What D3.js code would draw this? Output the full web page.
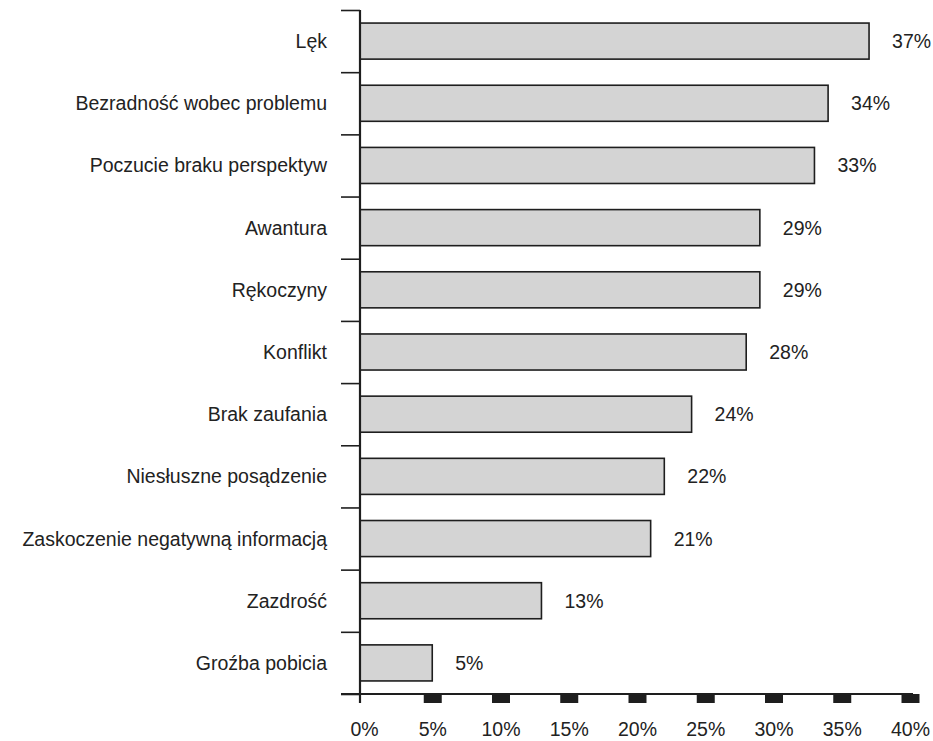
<!DOCTYPE html>
<html>
<head>
<meta charset="utf-8">
<script src="https://cdn.jsdelivr.net/npm/d3@7"></script>
<style>
  body { margin: 0; background: #fff; }
  text { font-family: "Liberation Sans", Arial, sans-serif; fill: #222; }
</style>
</head>
<body>
<div id="chart-area"></div>
<script>
// data
const categories = ["Lęk", "Bezradność wobec problemu", "Poczucie braku perspektyw",
  "Awantura", "Rękoczyny", "Konflikt", "Brak zaufania", "Niesłuszne posądzenie",
  "Zaskoczenie negatywną informacją", "Zazdrość", "Groźba pobicia"]
const values = [37, 34, 33, 29, 29, 28, 24, 22, 21, 13, 5]
const xTicks = [0, 5, 10, 15, 20, 25, 30, 35, 40]

const WIDTH = 933
const HEIGHT = 741
const AXIS_X = 360     // where the vertical axis is drawn
const TOP = 10
const BOTTOM = 694     // where the horizontal axis is drawn
const FONT = "19.5px"

const svg = d3.select("#chart-area").append("svg")
  .attr("width", WIDTH)
  .attr("height", HEIGHT)

const x = d3.scaleLinear()
  .domain([0, 40])
  .range([364, 910])

const y = d3.scaleBand()
  .domain(categories)
  .range([TOP, BOTTOM])
  .paddingInner(0.42)
  .paddingOuter(0.21)

// boundaries between the bands, for the tick marks on the left
const yEdge = d3.scaleLinear()
  .domain([0, categories.length])
  .range([TOP, BOTTOM])

const data = categories.map((c, i) => ({ cat: c, val: values[i] }))

// bars
svg.selectAll("rect.bar")
  .data(data)
  .enter().append("rect")
    .attr("class", "bar")
    .attr("x", AXIS_X)
    .attr("y", d => y(d.cat))
    .attr("width", d => x(d.val) - AXIS_X)
    .attr("height", y.bandwidth())
    .attr("fill", "#d4d4d4")
    .attr("stroke", "#1e1e1e")
    .attr("stroke-width", 1.6)

// value labels
svg.selectAll("text.value")
  .data(data)
  .enter().append("text")
    .attr("class", "value")
    .attr("x", d => x(d.val) + 23)
    .attr("y", d => y(d.cat) + y.bandwidth() / 2)
    .attr("dy", "0.36em")
    .style("font-size", FONT)
    .text(d => d.val + "%")

// category labels
svg.selectAll("text.cat")
  .data(data)
  .enter().append("text")
    .attr("class", "cat")
    .attr("x", AXIS_X - 33)
    .attr("y", d => y(d.cat) + y.bandwidth() / 2)
    .attr("dy", "0.36em")
    .attr("text-anchor", "end")
    .style("font-size", FONT)
    .text(d => d.cat)

// y axis ticks between bands
const yAxisCall = d3.axisLeft(yEdge)
  .tickValues(d3.range(0, categories.length + 1))
  .tickSize(19)
  .tickFormat("")

const yAxis = svg.append("g")
  .attr("transform", `translate(${AXIS_X}, 0)`)
  .call(yAxisCall)
yAxis.select(".domain").remove()
yAxis.selectAll(".tick line")
  .attr("stroke", "#1e1e1e")
  .attr("stroke-width", 1.6)

// x axis with square block ticks
const xAxisCall = d3.axisBottom(x)
  .tickValues(xTicks)
  .tickSize(0)
  .tickPadding(28)
  .tickFormat(d => d + "%")

const xAxis = svg.append("g")
  .attr("transform", `translate(0, ${BOTTOM})`)
  .call(xAxisCall)
xAxis.select(".domain").remove()
xAxis.selectAll(".tick text")
  .style("font-size", FONT)
  .attr("fill", "#222")
xAxis.selectAll(".tick")
  .filter(d => d > 0)
  .append("rect")
    .attr("x", -9)
    .attr("y", 0)
    .attr("width", 18)
    .attr("height", 9)
    .attr("fill", "#1e1e1e")

// axis lines
svg.append("line")
  .attr("x1", 341).attr("x2", 913)
  .attr("y1", BOTTOM).attr("y2", BOTTOM)
  .attr("stroke", "#1e1e1e")
  .attr("stroke-width", 2.2)

svg.append("line")
  .attr("x1", AXIS_X).attr("x2", AXIS_X)
  .attr("y1", TOP).attr("y2", BOTTOM + 9)
  .attr("stroke", "#1e1e1e")
  .attr("stroke-width", 2.2)
</script>
</body>
</html>
